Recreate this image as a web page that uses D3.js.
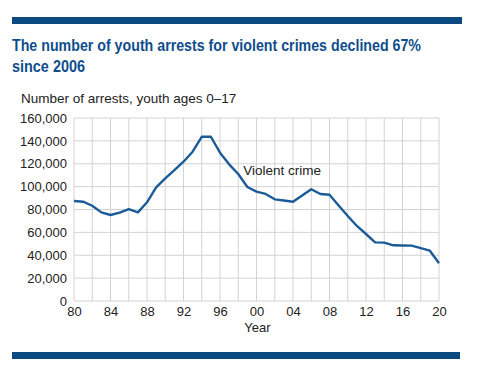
<!DOCTYPE html>
<html>
<head>
<meta charset="utf-8">
<script src="https://cdn.jsdelivr.net/npm/d3@7"></script>
<style>
  body { margin: 0; background: #fff; }
  svg { display: block; font-family: "Liberation Sans", Arial, sans-serif; }
</style>
</head>
<body>
<div id="chart"></div>
<script>
const years = d3.range(1980, 2021);
const arrests = [
  87400, 86800, 83300, 77500, 75200, 77200, 80400, 77500, 86300, 99400,
  107300, 114500, 121800, 130500, 143600, 143600, 129700, 119500, 111000, 99700,
  95600, 93600, 88900, 87900, 86800, 92200, 97700, 93600, 92900, 83500,
  74300, 65600, 58600, 51300, 51000, 48700, 48500, 48400, 46300, 44000,
  33000
];
const yTicks = [0, 20000, 40000, 60000, 80000, 100000, 120000, 140000, 160000];
const xTickYears = d3.range(1980, 2021, 4);
const xGridYears = d3.range(1980, 2021, 2);

const width = 480, height = 377;
const margins = { top: 118, right: 41, bottom: 76, left: 74 };
const innerWidth = width - margins.left - margins.right;
const innerHeight = height - margins.top - margins.bottom;

const svg = d3.select("#chart").append("svg")
  .attr("width", width)
  .attr("height", height);

// top and bottom rules
svg.append("rect").attr("x", 12).attr("y", 17).attr("width", 450).attr("height", 7).attr("fill", "#0b4a80");
svg.append("rect").attr("x", 12).attr("y", 352).attr("width", 448).attr("height", 7).attr("fill", "#0b4a80");

// title (condensed bold look)
const title = svg.append("text")
  .attr("font-weight", "bold")
  .attr("font-size", "16px")
  .attr("fill", "#0f4d8c");
title.append("tspan").attr("x", 12).attr("y", 51)
  .attr("textLength", 409).attr("lengthAdjust", "spacingAndGlyphs")
  .text("The number of youth arrests for violent crimes declined 67%");
title.append("tspan").attr("x", 12).attr("y", 72)
  .attr("textLength", 73).attr("lengthAdjust", "spacingAndGlyphs")
  .text("since 2006");

svg.append("text")
  .attr("x", 21).attr("y", 103)
  .attr("font-size", "13.5px")
  .attr("fill", "#222")
  .text("Number of arrests, youth ages 0\u201317");

const mainG = svg.append("g")
  .attr("transform", `translate(${margins.left},${margins.top})`);

const xScale = d3.scaleLinear().domain([1980, 2020]).range([0, innerWidth]);
const yScale = d3.scaleLinear().domain([0, 160000]).range([innerHeight, 0]);

// grid
mainG.append("g").selectAll("line")
  .data(xGridYears)
  .join("line")
  .attr("x1", d => xScale(d)).attr("x2", d => xScale(d))
  .attr("y1", 0).attr("y2", innerHeight)
  .attr("stroke", "#d3d3d3").attr("stroke-width", 1);

mainG.append("g").selectAll("line")
  .data(yTicks)
  .join("line")
  .attr("x1", 0).attr("x2", innerWidth)
  .attr("y1", d => yScale(d)).attr("y2", d => yScale(d))
  .attr("stroke", "#d3d3d3").attr("stroke-width", 1);

// axes (labels only)
const yAxisG = mainG.append("g")
  .call(d3.axisLeft(yScale).tickValues(yTicks).tickSize(0).tickPadding(7).tickFormat(d3.format(",")));
const xAxisG = mainG.append("g")
  .attr("transform", `translate(0,${innerHeight})`)
  .call(d3.axisBottom(xScale).tickValues(xTickYears).tickSize(0).tickPadding(6)
    .tickFormat(d => String(d % 100).padStart(2, "0")));
[yAxisG, xAxisG].forEach(g => {
  g.select(".domain").remove();
  g.selectAll("text")
    .attr("font-family", "'Liberation Sans', Arial, sans-serif")
    .attr("font-size", "13px")
    .attr("fill", "#222");
});

mainG.append("text")
  .attr("x", xScale(2000) + 1)
  .attr("y", innerHeight + 31)
  .attr("text-anchor", "middle")
  .attr("font-size", "13px")
  .attr("fill", "#222")
  .text("Year");

// line
const line = d3.line()
  .x((d, i) => xScale(years[i]))
  .y(d => yScale(d));

mainG.append("path")
  .datum(arrests)
  .attr("d", line)
  .attr("fill", "none")
  .attr("stroke", "#1a5b98")
  .attr("stroke-width", 2.4)
  .attr("stroke-linejoin", "round");

mainG.append("text")
  .attr("x", xScale(1998) + 5)
  .attr("y", yScale(110000))
  .attr("font-size", "13.5px")
  .attr("fill", "#222")
  .text("Violent crime");
</script>
</body>
</html>
